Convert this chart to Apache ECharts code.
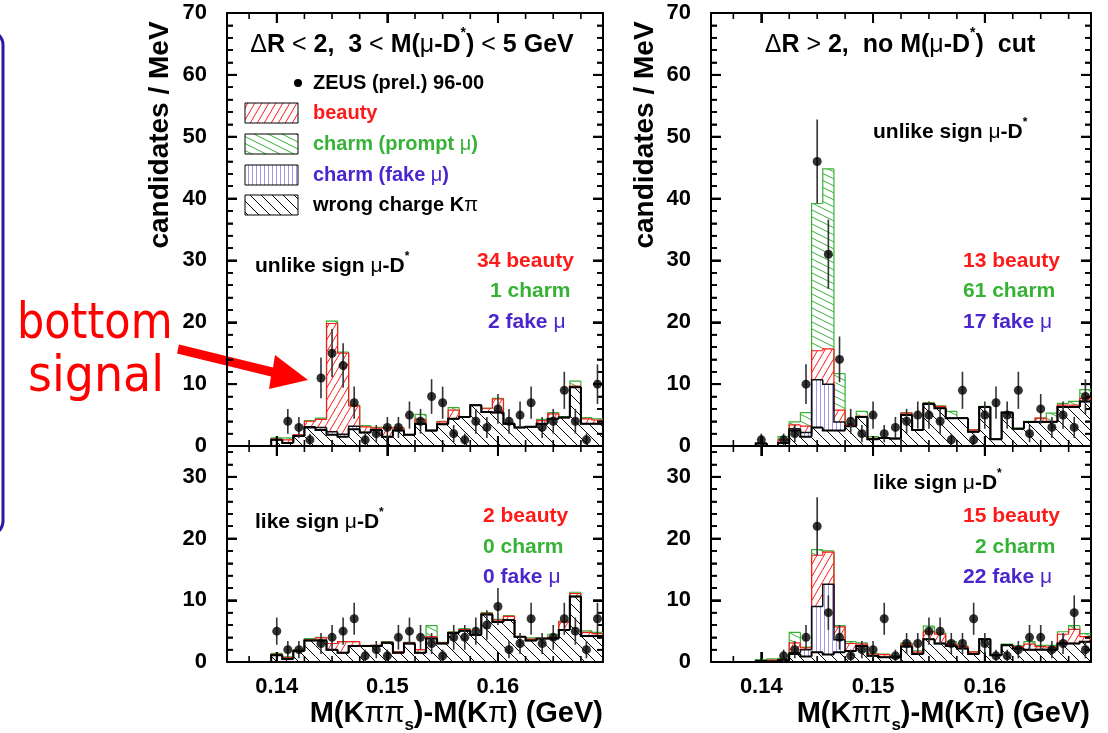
<!DOCTYPE html>
<html>
<head>
<meta charset="utf-8">
<script src="https://cdn.jsdelivr.net/npm/echarts@6/dist/echarts.min.js"></script>
</head>
<body style="margin:0;background:#fff">
<div id="container" style="width:1108px;height:733px"></div>
<script type="text/javascript">
// bin centres (GeV), 1 MeV bins
var bins = [0.140,0.141,0.142,0.143,0.144,0.145,0.146,0.147,0.148,0.149,
            0.150,0.151,0.152,0.153,0.154,0.155,0.156,0.157,0.158,0.159,
            0.160,0.161,0.162,0.163,0.164,0.165,0.166,0.167,0.168,0.169];
var xMajor = [0.14, 0.15, 0.16];
var xMinor = [0.1375,0.1425,0.145,0.1475,0.1525,0.155,0.1575,0.1625,0.165,0.1675];
var yMajorTop = [10,20,30,40,50,60];
var yMinorTop = [2,4,6,8,12,14,16,18,22,24,26,28,32,34,36,38,42,44,46,48,52,54,56,58,62,64,66,68];
var yMajorLow = [10,20,30];
var yMinorLow = [2,4,6,8,12,14,16,18,22,24,26,28,32,34];

// top left: dR<2, unlike sign
var tlWrong  = [1.0,0.5,1.6,3.0,2.6,1.8,1.5,2.7,2.2,2.6,1.5,2.5,1.8,3.6,2.5,3.5,4.4,4.7,6.6,5.5,5.4,3.6,3.0,3.1,3.6,4.4,4.6,9.5,3.6,3.6];
var tlFake   = [0,0,0,0.1,0.4,0.5,0.4,0.5,0,0,0,0,0,0,0,0,0,0,0,0,0,0,0,0,0,0,0,0,0,0];
var tlBeauty = [0.1,0.5,0.2,0.9,1.3,17.5,13.1,3.3,0.9,0.3,1.4,0.4,0.05,0.7,0,0.4,1.4,0,0,0.6,2.2,0,0,0,0.5,0.8,0,0.2,0.8,0.6];
var tlCharm  = [0.2,0.3,0,0.1,0.2,0.4,0.2,0.1,0.2,0.1,0.1,0.1,0.05,0.8,0,0.1,0.4,0,0.1,0,0.1,0.1,0,0,0.2,0.2,0.15,0.8,0.2,0.2];
var tlData   = [null,4,3,1,11,15,13,7,1,2,3,3,5,4,8,7,2,1,4,3,6,4,5,7,3,4,9,4,1,10];
var tlErr    = [null,2,1.7,1,3.3,3.9,3.6,2.6,1,1.4,1.7,1.7,2.2,2,2.8,2.6,1.4,1,2,1.7,2.4,2,2.2,2.6,1.7,2,3,2,1,3.2];

// bottom left: dR<2, like sign
var blWrong  = [1.1,0.5,1.8,3.5,3.5,2.0,1.5,2.6,2.6,2.6,3.1,1.5,3.0,1.5,3.8,3.0,4.7,5.05,4.4,7.7,6.5,6.8,4.1,3.5,3.8,3.8,5.2,10.6,4.2,4.2];
var blFake   = [0,0,0,0,0,0,0,0,0,0,0,0,0,0,0,0,0,0,0,0,0,0,0,0,0,0,0,0,0,0];
var blBeauty = [0.15,0.2,0.1,0.1,0.4,1.0,1.8,0.7,0,0.1,0.1,0.15,0.1,0.5,0.3,0.1,0.1,0.2,0,0.2,0.3,0.6,0,0.2,0,0.2,1.3,0.5,0.6,0.4];
var blCharm  = [0.15,0.15,0.1,0.2,0.1,0,0,0,0,0,0.1,0.05,0.1,0,1.8,0.1,0.1,0.15,0,0.1,0.1,0.1,0,0.2,0,0.5,0.1,0.2,0.25,0.2];
var blData   = [5,2,2,null,3,4,5,7,1,2,1,4,5,4,3,1,4,4,5,6,9,2,3,7,3,4,7,5,2,7];
var blErr    = [2.2,1.4,1.4,null,1.7,2,2.2,2.6,1,1.4,1,2,2.2,2,1.7,1,2,2,2.2,2.4,3,1.4,1.7,2.6,1.7,2,2.6,2.2,1.4,2.6];

// top right: dR>2, unlike sign
var trWrong  = [0.4,0,0.5,2.5,1.5,3.0,2.5,2.5,3.2,4.7,1.1,1.3,1.2,5.0,2.6,6.8,6.1,4.5,4.5,2.3,6.3,1.1,5.4,2.8,3.9,3.9,3.9,6.3,6.3,7.2];
var trFake   = [0,0,0,0.3,0.7,7.7,7.5,1.4,0,0,0,0,0,0,0,0,0,0,0,0,0,0,0,0,0,0,0,0,0,0];
var trBeauty = [0,0,0.5,0.6,1.0,4.7,5.7,1.9,0.3,0.1,0.15,0,0,0.3,0,0.1,0.3,0,0,0.3,0,0,0,0,0,0.6,0.1,0.3,0.3,0.5];
var trCharm  = [0.1,0,0.5,0.5,2.2,23.8,29.1,5.9,0.1,0.8,0.25,0,0,0.1,0,0.1,0.1,1.1,0,0,0.1,0,0,0.1,0.1,0,1.3,0.3,0.6,1.4];
var trData   = [1,null,1,2,10,46,31,14,4,2,5,2,3,4,5,5,4,1,9,1,5,7,5,9,2,6,3,5,3,8];
var trErr    = [1,null,1,1.4,3.2,6.8,5.6,3.7,2,1.4,2.2,1.4,1.7,2,2.2,2.2,2,1,3,1,2.2,2.6,2.2,3,1.4,2.4,1.7,2.2,1.7,2.8];

// bottom right: dR>2, like sign
var brWrong  = [0.15,0.1,0.3,1.3,0.9,1.6,1.2,1.6,1.8,2.6,1.0,0.75,0.75,2.5,1.3,3.7,3.0,2.6,2.2,1.3,3.7,1.1,2.7,2.2,2.0,2.0,2.0,3.0,3.0,3.3];
var brFake   = [0,0,0,0.2,1.1,7.4,11.4,2.0,0,0,0,0,0,0,0,0,0,0,0,0,0,0,0,0,0,0,0,0,0,0];
var brBeauty = [0,0.2,0.1,1.6,0.3,8.3,5.2,2.1,1.2,0.3,0.3,0.45,0.1,0.4,0.3,1.2,1.5,0.3,0.3,0.3,0,0,0,0.3,0.9,0.5,0.4,1.5,2.3,0.8];
var brCharm  = [0.25,0.2,0.2,1.7,0.1,0.9,0.2,0.2,0.3,0.2,0.1,0.1,0.15,0.2,0.2,0.9,0.2,0.4,0.1,0.1,0.1,0,0.2,0.1,0.4,0.2,0.3,0.4,0.6,0.5];
var brData   = [null,null,1,2,4,22,8,4,1,2,2,7,1,3,3,5,5,3,3,7,3,1,1,2,4,4,2,3,8,2];
var brErr    = [null,null,1,1.4,2,4.7,2.8,2,1,1.4,1.4,2.6,1,1.7,1.7,2.2,2.2,1.7,1.7,2.6,1.7,1,1,1.4,2,2,1.4,1.7,2.8,1.4];

var BIN = 0.001, xMin = 0.1355, xMax = 0.1695;
var FONT = '"Liberation Sans", Arial, Helvetica, sans-serif';
var RED = '#ff1a1a', GREEN = '#36b336', PURPLE = '#4a26cc', LILAC = '#a597ea';

function makePattern(w, h, color, draw) {
    var c = document.createElement('canvas');
    c.width = w; c.height = h;
    var ctx = c.getContext('2d');
    ctx.strokeStyle = color; ctx.lineWidth = 1;
    ctx.beginPath(); draw(ctx, w, h); ctx.stroke();
    return {image: c, repeat: 'repeat'};
}
var patWrong = makePattern(11, 11, '#000', function (ctx, w, h) {
    for (var k = -1; k <= 1; k++) { ctx.moveTo(0, k * h); ctx.lineTo(w, k * h + h); }
});
var patFake = makePattern(4, 4, LILAC, function (ctx, w, h) {
    ctx.moveTo(0.5, 0); ctx.lineTo(0.5, h);
});
var patBeauty = makePattern(7, 12, RED, function (ctx, w, h) {
    for (var k = -1; k <= 1; k++) { ctx.moveTo(k * w, h); ctx.lineTo(k * w + w, 0); }
});
var patCharm = makePattern(14, 7, GREEN, function (ctx, w, h) {
    for (var k = -1; k <= 1; k++) { ctx.moveTo(0, k * h); ctx.lineTo(w, k * h + h); }
});
var pats = [patWrong, patFake, patBeauty, patCharm];
var lineColors = ['#000', '#111', RED, GREEN];
var lineWidths = [2, 1.5, 1.2, 1.2];

var panels = [
    {wrong: tlWrong, fake: tlFake, beauty: tlBeauty, charm: tlCharm, data: tlData, err: tlErr},
    {wrong: blWrong, fake: blFake, beauty: blBeauty, charm: blCharm, data: blData, err: blErr},
    {wrong: trWrong, fake: trFake, beauty: trBeauty, charm: trCharm, data: trData, err: trErr},
    {wrong: brWrong, fake: brFake, beauty: brBeauty, charm: brCharm, data: brData, err: brErr}
];
var grids = [
    {left: 227, top: 13, width: 376, height: 433},
    {left: 227, top: 446, width: 376, height: 216},
    {left: 711, top: 13, width: 380, height: 433},
    {left: 711, top: 446, width: 380, height: 216}
];
var yMax = [70, 35, 70, 35];

// frame ticks (inward, on all four sides) as line elements
function frameTicks(api, gi) {
    var lower = gi % 2 === 1;
    var out = [];
    function seg(x1, y1, x2, y2, w) {
        out.push({type: 'line', shape: {x1: x1, y1: y1, x2: x2, y2: y2}, style: {stroke: '#000', lineWidth: w}});
    }
    function xt(v, len, w) {
        var a = api.coord([v, 0]), b = api.coord([v, yMax[gi]]);
        seg(a[0], a[1], a[0], a[1] - len, w);
        seg(b[0], b[1], b[0], b[1] + len, w);
    }
    function yt(v, len, w) {
        var a = api.coord([xMin, v]), b = api.coord([xMax, v]);
        seg(a[0], a[1], a[0] + len, a[1], w);
        seg(b[0], b[1], b[0] - len, b[1], w);
    }
    xMajor.forEach(function (v) { xt(v, 10, 2); });
    xMinor.forEach(function (v) { xt(v, 6, 1.6); });
    (lower ? yMajorLow : yMajorTop).forEach(function (v) { yt(v, 10, 2); });
    (lower ? yMinorLow : yMinorTop).forEach(function (v) { yt(v, 6, 1.6); });
    return out;
}

function stepItem(pattern, lineColor, lineWidth, tickGrid) {
    return function (params, api) {
        var x = api.value(0), b = api.value(1), t = api.value(2), pt = api.value(3);
        var lo = api.coord([x - BIN / 2, b]);
        var hi = api.coord([x + BIN / 2, t]);
        var prev = api.coord([x - BIN / 2, pt]);
        var children = [];
        if (t > b) {
            children.push({type: 'rect', shape: {x: lo[0], y: hi[1], width: hi[0] - lo[0], height: lo[1] - hi[1]},
                style: {fill: pattern, stroke: null}});
        }
        children.push({type: 'polyline', shape: {points: [[lo[0], prev[1]], [lo[0], hi[1]], [hi[0], hi[1]]]},
            style: {stroke: lineColor, lineWidth: lineWidth, fill: null}});
        if (tickGrid !== undefined && params.dataIndex === 0) {
            children = children.concat(frameTicks(api, tickGrid));
        }
        return {type: 'group', children: children};
    };
}
function errItem(params, api) {
    var x = api.value(0);
    var a = api.coord([x, api.value(1)]);
    var b = api.coord([x, api.value(2)]);
    return {type: 'line', shape: {x1: a[0], y1: a[1], x2: b[0], y2: b[1]},
        style: {stroke: '#333', lineWidth: 1.6}};
}

var xAxis = [], yAxis = [], series = [];
grids.forEach(function (g, gi) {
    var lower = gi % 2 === 1;
    ['bottom', 'top'].forEach(function (pos) {
        xAxis.push({
            gridIndex: gi, type: 'value', min: xMin, max: xMax, position: pos,
            axisLine: {show: true, onZero: false, lineStyle: {color: '#000', width: 2}},
            axisTick: {show: true, inside: true, length: 10, customValues: xMajor, lineStyle: {color: '#000', width: 2}},
            axisLabel: {show: pos === 'bottom' && lower, customValues: xMajor, margin: 14,
                formatter: function (v) { return v.toFixed(2); },
                color: '#000', fontFamily: FONT, fontWeight: 'bold', fontSize: 22},
            splitLine: {show: false}
        });
    });
    ['left', 'right'].forEach(function (pos) {
        yAxis.push({
            gridIndex: gi, type: 'value', min: 0, max: yMax[gi], interval: 10, position: pos,
            axisLine: {show: true, onZero: false, lineStyle: {color: '#000', width: 2}},
            axisTick: {show: true, inside: true, length: 10, lineStyle: {color: '#000', width: 2}},
            minorTick: {show: true, splitNumber: 5, length: 6, lineStyle: {color: '#000', width: 1.6}},
            axisLabel: {show: pos === 'left', showMaxLabel: !lower, margin: 20,
                color: '#000', fontFamily: FONT, fontWeight: 'bold', fontSize: 22},
            splitLine: {show: false}
        });
    });

    var p = panels[gi];
    var layers = [p.wrong, p.fake, p.beauty, p.charm];
    var base = bins.map(function () { return 0; });
    var rows = layers.map(function (arr) {
        var tops = base.map(function (b, i) { return b + arr[i]; });
        var r = bins.map(function (x, i) { return [x, base[i], tops[i], i ? tops[i - 1] : 0]; });
        base = tops;
        return r;
    });
    [3, 2, 1, 0].forEach(function (li) {
        series.push({
            type: 'custom', xAxisIndex: gi * 2, yAxisIndex: gi * 2, clip: false, silent: true,
            renderItem: stepItem(pats[li], lineColors[li], lineWidths[li], li === 0 ? gi : undefined),
            data: rows[li]
        });
    });
    var errRows = [], pts = [];
    bins.forEach(function (x, i) {
        if (p.data[i] === null) return;
        pts.push([x, p.data[i]]);
        errRows.push([x, p.data[i] - p.err[i], p.data[i] + p.err[i]]);
    });
    series.push({type: 'custom', xAxisIndex: gi * 2, yAxisIndex: gi * 2, clip: true, silent: true,
        renderItem: errItem, data: errRows});
    series.push({type: 'scatter', xAxisIndex: gi * 2, yAxisIndex: gi * 2, symbol: 'circle', symbolSize: 9,
        itemStyle: {color: '#000'}, silent: true, data: pts});
});

function rich(color, size) {
    return {
        b: {fontFamily: FONT, fontWeight: 'bold', fontSize: size, fill: color, color: color},
        n: {fontFamily: FONT, fontWeight: 'normal', fontSize: size, fill: color, color: color},
        sup: {fontFamily: FONT, fontWeight: 'bold', fontSize: Math.round(size * 0.55), fill: color, color: color,
            verticalAlign: 'top', padding: [0, 0, Math.round(size * 0.9), 0]},
        sub: {fontFamily: FONT, fontWeight: 'bold', fontSize: Math.round(size * 0.6), fill: color, color: color,
            verticalAlign: 'bottom', padding: [Math.round(size * 0.75), 0, 0, 0]}
    };
}
function label(x, y, text, color, size, align) {
    return {type: 'text', x: x, y: y, silent: true, style: {
        text: text, rich: rich(color, size), fill: color,
        font: 'bold ' + size + 'px ' + FONT, align: align || 'left', verticalAlign: 'middle'}};
}
function legendBox(y, pattern) {
    return {type: 'rect', shape: {x: 245, y: y, width: 53, height: 20}, silent: true,
        style: {fill: pattern, stroke: '#000', lineWidth: 1}};
}

var graphics = [
    // frame on far left
    {type: 'rect', shape: {x: -200, y: 31, width: 203, height: 504, r: 14}, silent: true,
        style: {fill: 'none', stroke: '#2d18a0', lineWidth: 3}},
    // annotation
    {type: 'text', x: 17, y: 325, scaleX: 0.86, silent: true, style: {text: 'bottom', fill: '#ff0000',
        font: 'normal 50px "DejaVu Sans", sans-serif', align: 'left', verticalAlign: 'middle'}},
    {type: 'text', x: 164, y: 378, scaleX: 0.92, silent: true, style: {text: 'signal', fill: '#ff0000',
        font: 'normal 50px "DejaVu Sans", sans-serif', align: 'right', verticalAlign: 'middle'}},
    {type: 'polygon', silent: true, shape: {points: [[179, 344.6], [273, 367.6], [275, 355], [308, 380], [269, 389], [271, 376.4], [177, 353.4]]},
        style: {fill: '#ff0000', stroke: null}},
    // axis titles
    {type: 'text', x: 160, y: 135, rotation: Math.PI / 2, silent: true, style: {text: 'candidates / MeV', fill: '#000',
        font: 'bold 28px ' + FONT, align: 'center', verticalAlign: 'middle'}},
    {type: 'text', x: 645, y: 135, rotation: Math.PI / 2, silent: true, style: {text: 'candidates / MeV', fill: '#000',
        font: 'bold 28px ' + FONT, align: 'center', verticalAlign: 'middle'}},
    label(603, 714, '{b|M(K}{n|ππ}{sub|s}{b|)-M(K}{n|π}{b|) (GeV)}', '#000', 29, 'right'),
    label(1090, 714, '{b|M(K}{n|ππ}{sub|s}{b|)-M(K}{n|π}{b|) (GeV)}', '#000', 29, 'right'),
    // panel titles
    label(412, 45, '{n|Δ}{b|R }{n|<}{b| 2,  3 }{n|<}{b| M(}{n|μ}{b|-D}{sup|*}{b|) }{n|<}{b| 5 GeV}', '#000', 25, 'center'),
    label(900, 45, '{n|Δ}{b|R }{n|>}{b| 2,  no M(}{n|μ}{b|-D}{sup|*}{b|)  cut}', '#000', 25, 'center'),
    // legend
    {type: 'circle', shape: {cx: 298, cy: 83, r: 4}, silent: true, style: {fill: '#000'}},
    label(313, 83, '{b|ZEUS (prel.) 96-00}', '#000', 20),
    legendBox(103, patBeauty), label(313, 113, '{b|beauty}', RED, 20),
    legendBox(134, patCharm), label(313, 144, '{b|charm (prompt }{n|μ}{b|)}', GREEN, 20),
    legendBox(165, patFake), label(313, 175, '{b|charm (fake }{n|μ}{b|)}', PURPLE, 20),
    legendBox(195, patWrong), label(313, 205, '{b|wrong charge K}{n|π}', '#000', 20),
    // panel annotations
    label(255, 266, '{b|unlike sign }{n|μ}{b|-D}{sup|*}', '#000', 21),
    label(477, 261, '{b|34 beauty}', RED, 21),
    label(490, 291, '{b|1 charm}', GREEN, 21),
    label(488, 322, '{b|2 fake }{n|μ}', PURPLE, 21),
    label(255, 522, '{b|like sign }{n|μ}{b|-D}{sup|*}', '#000', 21),
    label(483, 516, '{b|2 beauty}', RED, 21),
    label(483, 547, '{b|0 charm}', GREEN, 21),
    label(483, 577, '{b|0 fake }{n|μ}', PURPLE, 21),
    label(873, 132, '{b|unlike sign }{n|μ}{b|-D}{sup|*}', '#000', 21),
    label(963, 261, '{b|13 beauty}', RED, 21),
    label(963, 291, '{b|61 charm}', GREEN, 21),
    label(963, 322, '{b|17 fake }{n|μ}', PURPLE, 21),
    label(873, 483, '{b|like sign }{n|μ}{b|-D}{sup|*}', '#000', 21),
    label(963, 516, '{b|15 beauty}', RED, 21),
    label(975, 547, '{b|2 charm}', GREEN, 21),
    label(963, 577, '{b|22 fake }{n|μ}', PURPLE, 21)
];

var chart = echarts.init(document.getElementById('container'));
var option = {
    animation: false,
    backgroundColor: '#fff',
    grid: grids,
    xAxis: xAxis,
    yAxis: yAxis,
    series: series,
    graphic: graphics
};
chart.setOption(option);
</script>
</body>
</html>
